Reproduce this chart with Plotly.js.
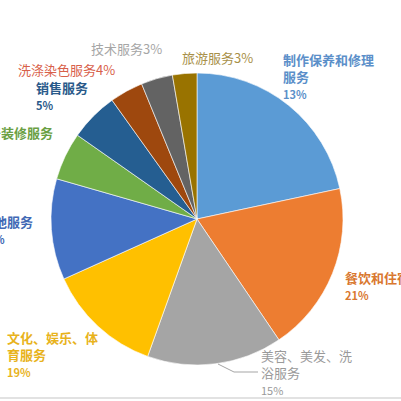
<!DOCTYPE html>
<html>
<head>
<meta charset="utf-8">
<script src="https://cdn.plot.ly/plotly-3.0.1.min.js"></script>
<style>
  html, body { margin: 0; padding: 0; background: #fff; }
  #chart { width: 401px; height: 401px; }
</style>
</head>
<body>
<div id="chart"></div>
<script>
// service categories, clockwise from 12 o'clock
const categories = ['制作保养和修理服务', '餐饮和住宿服务', '美容、美发、洗浴服务', '文化、娱乐、体育服务',
  '其他服务', '家居装修服务', '销售服务', '洗涤染色服务', '技术服务', '旅游服务'];
// slice sizes (share of the circle, %)
const sliceValues = [21.7, 18.9, 15.0, 12.8, 11.2, 5.3, 5.4, 3.7, 3.5, 2.7];
// percentages as printed on the labels
const shownPct = ['13%', '21%', '15%', '19%', '11%', '5%', '5%', '4%', '3%', '3%'];

const colors = ['#5B9BD5', '#ED7D31', '#A5A5A5', '#FFC000', '#4472C4', '#70AD47',
  '#255E91', '#9E480E', '#636363', '#997300'];
const textColors = ['#5B8FC9', '#D9782F', '#9A9A9A', '#E8B31C', '#4169B5', '#6AA043',
  '#2A5A8A', '#D8604A', '#A6A6A6', '#A89048'];

// label placement in pixels (left/top of the text block, or right edge when anchor is 'right')
const labelPos = [
  { x: 281, y: 48, anchor: 'left', wrap: 7, inline: false, bold: true },
  { x: 343, y: 266, anchor: 'left', wrap: 0, inline: false, bold: true },
  { x: 259, y: 344, anchor: 'left', wrap: 7, inline: false, bold: false },
  { x: 5, y: 326, anchor: 'left', wrap: 7, inline: false, bold: true },
  { x: 35, y: 210, anchor: 'right', wrap: 0, inline: false, bold: true },
  { x: 55, y: 121, anchor: 'right', wrap: 0, inline: false, bold: true },
  { x: 34, y: 76, anchor: 'left', wrap: 0, inline: false, bold: true },
  { x: 16, y: 58, anchor: 'left', wrap: 0, inline: true, bold: false },
  { x: 89, y: 37, anchor: 'left', wrap: 0, inline: true, bold: false },
  { x: 180, y: 46, anchor: 'left', wrap: 0, inline: true, bold: false }
];

const W = 401, H = 401;
const cx = 197, cy = 219, r = 146;
const px = (v) => v / W;
const py = (v) => 1 - v / H;

const data = [{
  type: 'pie',
  labels: categories,
  values: sliceValues,
  sort: false,
  direction: 'clockwise',
  rotation: 0,
  textinfo: 'none',
  hoverinfo: 'label+percent',
  marker: { colors: colors, line: { color: '#ffffff', width: 0.6 } },
  domain: { x: [px(cx - r), px(cx + r)], y: [py(cy + r), py(cy - r)] },
  showlegend: false
}];

const annotations = labelPos.map((p, i) => {
  let name = categories[i];
  let txt;
  if (p.wrap > 0 && name.length > p.wrap) {
    txt = name.slice(0, p.wrap) + '<br>' + name.slice(p.wrap);
  } else {
    txt = name;
  }
  if (p.bold) txt = '<b>' + txt + '</b>';
  if (p.inline) {
    txt = txt + shownPct[i];
  } else {
    txt = txt + '<br><span style="font-size:11px">' + (p.bold ? '<b>' + shownPct[i] + '</b>' : shownPct[i]) + '</span>';
  }
  return {
    xref: 'paper', yref: 'paper',
    x: px(p.x), y: py(p.y),
    xanchor: p.anchor, yanchor: 'top',
    align: 'left',
    showarrow: false,
    text: txt,
    font: { family: '"Noto Sans CJK SC", "Noto Sans", sans-serif', size: 13, color: textColors[i] }
  };
});

const layout = {
  width: W,
  height: H,
  margin: { l: 0, r: 0, t: 0, b: 0 },
  paper_bgcolor: '#ffffff',
  annotations: annotations,
  shapes: [
    // leader line for the 美容 label
    {
      type: 'path', xref: 'paper', yref: 'paper',
      path: 'M ' + px(218) + ' ' + py(364) + ' L ' + px(234) + ' ' + py(372) + ' L ' + px(258) + ' ' + py(372),
      line: { color: '#A5A5A5', width: 1 }
    },
    // chart area border at the bottom
    {
      type: 'line', xref: 'paper', yref: 'paper',
      x0: 0, x1: 1, y0: py(398), y1: py(398),
      line: { color: '#D9D9D9', width: 1.5 }
    }
  ]
};

Plotly.newPlot('chart', data, layout, { staticPlot: true });
</script>
</body>
</html>
